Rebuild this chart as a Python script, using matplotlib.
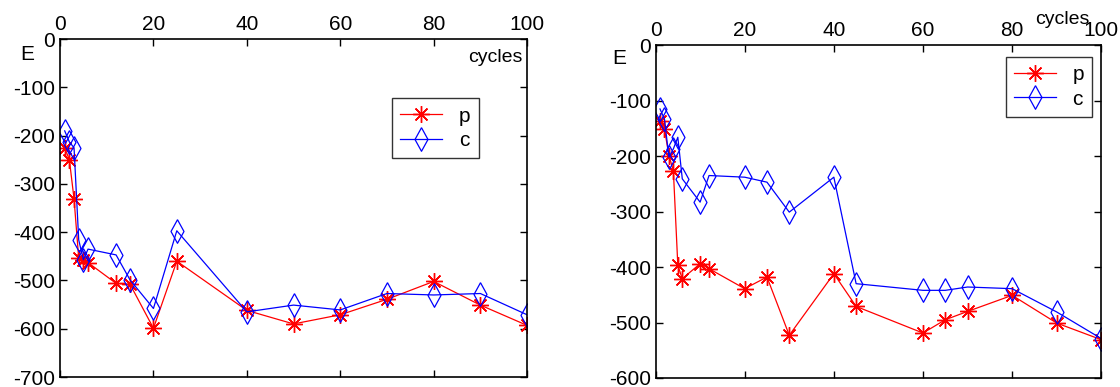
import matplotlib.pyplot as plt

plt.rcParams['font.family'] = ['Liberation Sans', 'DejaVu Sans']
plt.rcParams['axes.unicode_minus'] = False

# left panel data
x_left = [1, 2, 3, 4, 5, 6, 12, 15, 20, 25, 40, 50, 60, 70, 80, 90, 100]
p_left = [-225, -250, -331, -454, -457, -463, -506, -508, -599, -460,
          -562, -590, -571, -539, -502, -551, -593]
c_left = [-190, -213, -225, -416, -457, -435, -447, -499, -558, -397,
          -565, -551, -561, -527, -530, -527, -571]

# right panel data
x_right = [1, 2, 3, 4, 5, 6, 10, 12, 20, 25, 30, 40, 45, 60, 65, 70, 80, 90, 100]
p_right = [-136, -151, -199, -226, -397, -421, -394, -403, -439, -418,
           -523, -412, -471, -519, -495, -480, -451, -501, -531]
c_right = [-115, -133, -202, -187, -166, -241, -283, -235, -238, -247,
           -301, -238, -430, -442, -442, -436, -439, -481, -529]

fig = plt.figure(figsize=(11.2, 3.87), dpi=100)
ax1 = fig.add_axes([0.0536, 0.0258, 0.417, 0.873])
ax2 = fig.add_axes([0.5853, 0.0233, 0.398, 0.860])

# matlab-like asterisk and tall thin diamond
star = (8, 2, 0)
diamond = [(0, 1), (0.55, 0), (0, -1), (-0.55, 0), (0, 1)]


def draw(ax, x, p, c, ymin, legend_box):
    ax.plot(x, p, color='red', lw=0.9, marker=star, ms=12, mew=1.0,
            label='p')
    ax.plot(x, c, color='blue', lw=0.9, marker=diamond, ms=17, mew=0.9,
            mfc='none', label='c')
    ax.set_xlim(0, 100)
    ax.set_ylim(ymin, 0)
    ax.set_xticks(range(0, 101, 20))
    ax.set_yticks(range(ymin, 1, 100))
    ax.xaxis.tick_top()
    ax.tick_params(direction='in', top=True, bottom=True, left=True,
                   right=True, labelsize=15, length=5, width=1)
    for s in ax.spines.values():
        s.set_linewidth(1.2)
    leg = ax.legend(loc='upper left', bbox_to_anchor=legend_box, fontsize=15,
                    frameon=True, fancybox=False, edgecolor='black',
                    borderpad=0.4, handlelength=2.0, handletextpad=0.8,
                    borderaxespad=0, labelspacing=0.25)
    leg.get_frame().set_linewidth(1.0)


draw(ax1, x_left, p_left, c_left, -700, (0.711, 0.825))
draw(ax2, x_right, p_right, c_right, -600, (0.786, 0.964))

fig.text(27 / 1120, 1 - 54 / 387, 'E', fontsize=15, ha='center', va='center')
fig.text(619 / 1120, 1 - 58 / 387, 'E', fontsize=15, ha='center', va='center')
fig.text(495 / 1120, 1 - 57 / 387, 'cycles', fontsize=14, ha='center', va='center')
fig.text(1062 / 1120, 1 - 20 / 387, 'cycles', fontsize=14, ha='center', va='center')

fig.savefig('out.png', dpi=100)
